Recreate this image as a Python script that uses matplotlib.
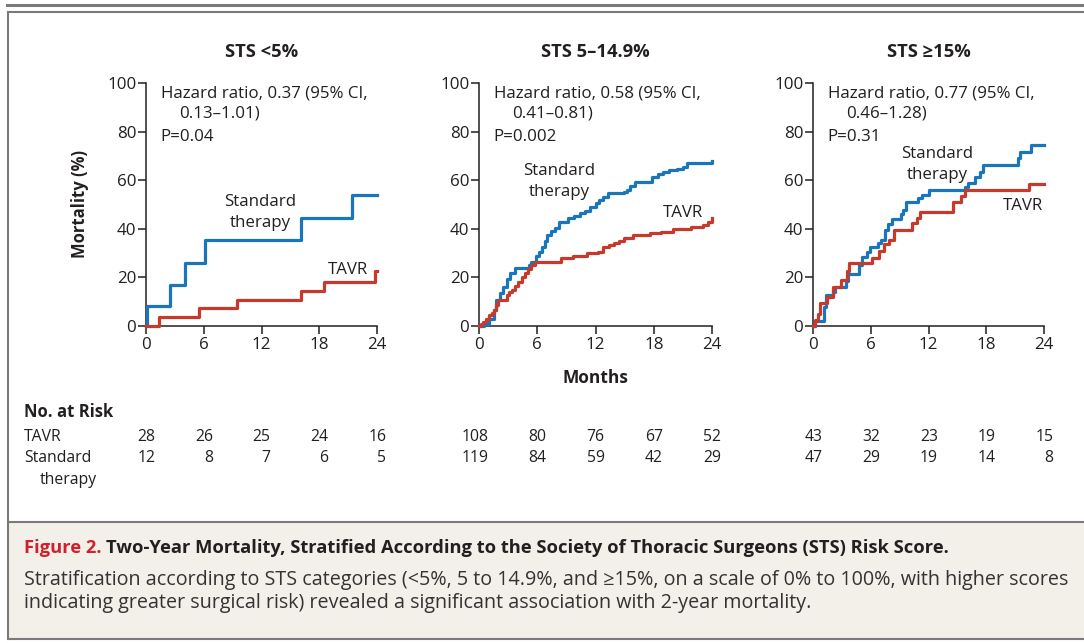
import matplotlib
matplotlib.use("Agg")
import matplotlib.pyplot as plt
from matplotlib.lines import Line2D
from matplotlib.patches import Rectangle
import matplotlib.transforms as mtrans

plt.rcParams["font.family"] = ["Open Sans", "DejaVu Sans"]

W, H = 1084, 643
BLUE = "#1b75bb"
RED = "#c6392b"
INK = "#231f20"
FRAME = "#7a7a7a"

# ---- data ----
titles = ["STS <5%", "STS 5\u201314.9%", "STS \u226515%"]
hazard = ["Hazard ratio, 0.37 (95% CI,", "Hazard ratio, 0.58 (95% CI,", "Hazard ratio, 0.77 (95% CI,"]
ci = ["0.13\u20131.01)", "0.41\u20130.81)", "0.46\u20131.28)"]
pvals = ["P=0.04", "P=0.002", "P=0.31"]
months_ticks = [0, 6, 12, 18, 24]

p1_t_std = [0, 0.1, 2.5, 4.0, 6.15, 16.1, 21.4, 24]
p1_y_std = [0, 8.3, 16.7, 26.0, 35.2, 44.5, 53.8, 53.8]
p1_t_tavr = [0, 1.3, 5.5, 9.5, 16.1, 18.5, 23.8, 24]
p1_y_tavr = [0, 3.6, 7.3, 10.7, 14.4, 18.0, 22.5, 22.5]

p2_t_std = [0, 0.5, 1.0, 1.5, 1.8, 2.2, 2.5, 2.9, 3.2, 3.7, 4.9, 5.2, 5.4, 5.9, 6.2, 6.5,
            6.8, 7.0, 7.4, 7.8, 8.2, 9.0, 9.2, 9.8, 10.4, 10.9, 11.4, 12.0, 12.4, 12.8,
            13.3, 14.5, 14.9, 15.2, 15.6, 16.1, 17.5, 17.8, 18.4, 19.0, 19.6, 20.4, 21.0,
            21.4, 23.9, 24]
p2_y_std = [0, 1.0, 3.0, 6.5, 10.7, 13.5, 16.2, 19.5, 21.7, 23.7, 23.7, 25.0, 26.5, 28.8,
            30.5, 32.6, 35.0, 37.4, 39.0, 40.2, 42.9, 42.9, 44.3, 45.3, 46.4, 47.5, 49.1,
            50.5, 51.8, 53.2, 54.6, 54.6, 55.3, 56.0, 57.5, 59.4, 59.4, 61.5, 62.5, 63.5,
            64.0, 64.5, 65.5, 66.9, 67.2, 68.0]
p2_t_tavr = [0, 0.2, 0.45, 0.7, 1.0, 1.3, 1.5, 1.8, 2.0, 2.85, 3.1, 3.4, 3.7, 4.05, 4.4,
             4.7, 5.0, 5.4, 5.8, 7.7, 8.4, 9.7, 11.1, 12.3, 12.8, 13.4, 13.9, 14.4, 14.9,
             15.9, 17.6, 18.7, 20.0, 21.8, 23.1, 23.6, 24]
p2_y_tavr = [0, 1.0, 1.8, 3.0, 4.5, 5.5, 6.6, 8.5, 10.7, 12.8, 13.8, 14.8, 16.5, 18.2,
             20.0, 21.7, 23.5, 25.1, 26.5, 26.5, 27.8, 28.8, 29.9, 30.6, 32.6, 33.3, 34.0,
             35.0, 36.1, 37.4, 38.1, 38.8, 39.8, 40.6, 41.6, 42.9, 44.3]

p3_t_std = [0, 0.24, 1.15, 1.4, 2.1, 2.3, 3.4, 3.6, 4.8, 5.1, 5.6, 5.9, 6.8, 7.1, 7.5, 7.8,
            8.2, 9.1, 9.4, 9.7, 10.9, 11.3, 12.0, 15.8, 16.1, 16.8, 17.3, 17.7, 21.3, 21.5,
            22.7, 24]
p3_y_std = [0, 2.1, 7.8, 12.6, 14.0, 16.0, 18.5, 21.5, 25.0, 28.4, 30.5, 32.6, 34.0, 35.4,
            39.4, 42.1, 44.2, 46.0, 47.7, 51.2, 52.5, 53.9, 56.0, 57.3, 58.7, 61.3, 63.4,
            66.1, 69.0, 71.6, 74.3, 74.3]
p3_t_tavr = [0, 0.24, 0.5, 0.7, 1.5, 2.1, 2.9, 3.55, 3.7, 6.1, 6.9, 7.4, 7.9, 8.4, 10.3,
             10.8, 11.1, 14.5, 15.4, 15.8, 22.4, 24]
p3_y_tavr = [0, 2.3, 5.1, 9.5, 11.9, 16.0, 19.1, 22.5, 25.9, 28.0, 30.7, 33.9, 35.3, 39.6,
             42.4, 44.5, 46.9, 51.0, 53.5, 55.8, 58.6, 58.6]

tavr_risk = [[28, 26, 25, 24, 16], [108, 80, 76, 67, 52], [43, 32, 23, 19, 15]]
std_risk = [[12, 8, 7, 6, 5], [119, 84, 59, 42, 29], [47, 29, 19, 14, 8]]

curves = [(p1_t_std, p1_y_std, p1_t_tavr, p1_y_tavr),
          (p2_t_std, p2_y_std, p2_t_tavr, p2_y_tavr),
          (p3_t_std, p3_y_std, p3_t_tavr, p3_y_tavr)]

# label placement (pixel positions in the reference)
std_lbl = [(260, 202), (559, 171), (937, 154)]
tavr_lbl = [(348, 270), (683, 213), (1023, 206)]
ax_left = [146, 479, 813]
ax_w = [231, 233, 231]

FS = 12.2


def fx(px):
    return px / W


def fy(py):
    return 1 - py / H


fig = plt.figure(figsize=(W / 100, H / 100), dpi=100)
fig.patch.set_facecolor("white")

# frame & caption box
fig.add_artist(Rectangle((fx(8), fy(639)), 1 - fx(8), fy(522) - fy(639),
                         transform=fig.transFigure, facecolor="#f3f0ea", edgecolor="none"))
fig.add_artist(Line2D([fx(7), 1], [fy(5), fy(5)], transform=fig.transFigure, color=FRAME, lw=2.2))
fig.add_artist(Line2D([fx(8), 1], [fy(12), fy(12)], transform=fig.transFigure, color=FRAME, lw=1.5))
fig.add_artist(Line2D([fx(8), fx(8)], [fy(12), fy(639)], transform=fig.transFigure, color=FRAME, lw=1.5))
fig.add_artist(Line2D([fx(8), 1], [fy(522), fy(522)], transform=fig.transFigure, color=FRAME, lw=1.5))
fig.add_artist(Line2D([fx(8), 1], [fy(639), fy(639)], transform=fig.transFigure, color=FRAME, lw=1.5))

for i in range(3):
    ax = fig.add_axes([fx(ax_left[i]), fy(326), ax_w[i] / W, 243 / H])
    ax.set_facecolor("none")
    ts, ys, tt, yt = curves[i]
    ax.plot(ts, ys, drawstyle="steps-post", color=BLUE, lw=2.3, clip_on=False, zorder=3)
    ax.plot(tt, yt, drawstyle="steps-post", color=RED, lw=2.3, clip_on=False, zorder=4)
    ax.set_xlim(0, 24)
    ax.set_ylim(0, 100)
    ax.set_xticks(months_ticks)
    ax.set_yticks([0, 20, 40, 60, 80, 100])
    for s in ["top", "right"]:
        ax.spines[s].set_visible(False)
    for s in ["left", "bottom"]:
        ax.spines[s].set_color(INK)
        ax.spines[s].set_linewidth(1.1)
    ax.tick_params(axis="both", direction="out", length=6, width=1.1, color=INK,
                   labelsize=FS, labelcolor=INK)
    ax.tick_params(axis="y", pad=1)
    ax.tick_params(axis="x", pad=2)

    fig.text(fx(ax_left[i] + ax_w[i] / 2), fy(52), titles[i], fontsize=13.2, fontweight="bold",
             color=INK, ha="center", va="center")
    fig.text(fx(ax_left[i] + 15), fy(93), hazard[i], fontsize=FS, color=INK, va="center")
    fig.text(fx(ax_left[i] + 33), fy(114), ci[i], fontsize=FS, color=INK, va="center")
    fig.text(fx(ax_left[i] + 14), fy(137), pvals[i], fontsize=FS, color=INK, va="center")
    sx, sy = std_lbl[i]
    fig.text(fx(sx), fy(sy), "Standard", fontsize=FS, color=INK, ha="center", va="center")
    fig.text(fx(sx), fy(sy + 21), "therapy", fontsize=FS, color=INK, ha="center", va="center")
    fig.text(fx(tavr_lbl[i][0]), fy(tavr_lbl[i][1]), "TAVR", fontsize=FS, color=INK,
             ha="center", va="center")

    # numbers at risk, right-aligned just past each tick
    tr = mtrans.blended_transform_factory(ax.transData, fig.transFigure)
    for k, m in enumerate(months_ticks):
        ax.text(m + 0.95, fy(437), str(tavr_risk[i][k]), transform=tr, ha="right",
                va="center", fontsize=11.3, color=INK, clip_on=False)
        ax.text(m + 0.95, fy(458), str(std_risk[i][k]), transform=tr, ha="right",
                va="center", fontsize=11.3, color=INK, clip_on=False)

fig.text(fx(80), fy(204), "Mortality (%)", rotation=90, fontsize=12, fontweight="bold",
         color=INK, ha="center", va="center")
fig.text(fx(595), fy(378), "Months", fontsize=12.5, fontweight="bold", color=INK,
         ha="center", va="center")

fig.text(fx(24), fy(412), "No. at Risk", fontsize=12, fontweight="bold", color=INK, va="center")
fig.text(fx(24), fy(437), "TAVR", fontsize=11.3, color=INK, va="center")
fig.text(fx(24), fy(458), "Standard", fontsize=11.3, color=INK, va="center")
fig.text(fx(40), fy(480), "therapy", fontsize=11.3, color=INK, va="center")

# caption
lab = fig.text(fx(24), fy(548), "Figure 2.", fontsize=13.2, fontweight="bold",
               color="#d0202e", va="center")
fig.canvas.draw()
bb = lab.get_window_extent(fig.canvas.get_renderer())
fig.text(bb.x1 / W + 5 / W, fy(548),
         "Two-Year Mortality, Stratified According to the Society of Thoracic Surgeons (STS) Risk Score.",
         fontsize=13.2, fontweight="bold", color=INK, va="center")
fig.text(fx(24), fy(580),
         "Stratification according to STS categories (<5%, 5 to 14.9%, and \u226515%, on a scale of 0% to 100%, with higher scores",
         fontsize=14.2, color="#333333", va="center")
fig.text(fx(24), fy(603),
         "indicating greater surgical risk) revealed a significant association with 2-year mortality.",
         fontsize=14.2, color="#333333", va="center")

fig.savefig("out.png", dpi=100)
